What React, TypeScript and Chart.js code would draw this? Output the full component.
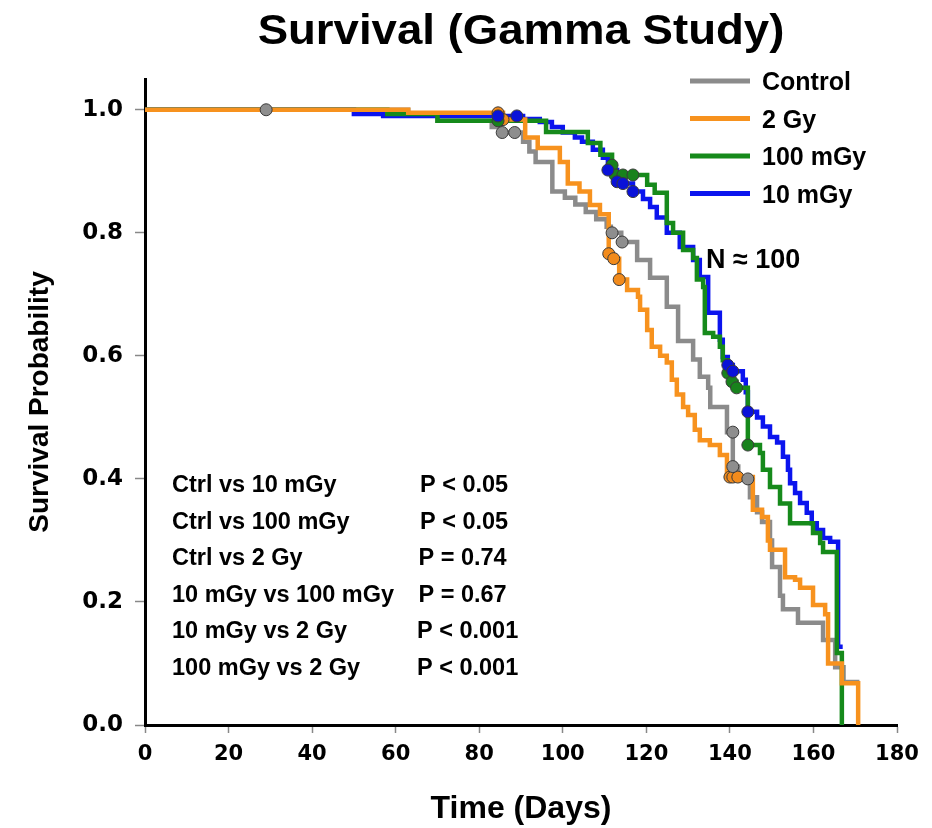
import React, { useEffect, useRef } from 'react';
import { Chart, registerables } from 'chart.js';

Chart.register(...registerables);

// ---------------- data ----------------
const seriesNames = ['Control', '2 Gy', '100 mGy', '10 mGy'];
const lineColors = ['#8b8b8b', '#f7921e', '#168a1b', '#0b14ee'];
const markerColors = ['#8e8e8e', '#f28b1c', '#18821c', '#0a12d8'];

// Kaplan–Meier steps (day of drop, survival after drop)
const controlDays = [0, 63, 70, 83, 85, 90.5, 92, 93.5, 97.5, 100.5, 103, 105.5, 108, 110.5, 111.5, 114, 117.8, 120.9, 124.9, 127.6, 131.2, 132.8, 134.8, 135.3, 139.3, 140.7, 142, 144.8, 146.5, 147.7, 149.6, 150.1, 152.0, 152.7, 156.3, 162.3, 165.2, 167.2, 171];
const controlSurv = [1.0, 0.993, 0.982, 0.972, 0.963, 0.948, 0.932, 0.915, 0.867, 0.857, 0.846, 0.834, 0.822, 0.81, 0.80, 0.785, 0.756, 0.727, 0.68, 0.624, 0.594, 0.566, 0.548, 0.517, 0.476, 0.42, 0.40, 0.37, 0.346, 0.33, 0.30, 0.257, 0.21, 0.188, 0.166, 0.138, 0.094, 0.07, 0.07];

const gy2Days = [0, 63, 85.7, 91, 94, 99.3, 101.2, 104, 106.5, 108.9, 111, 112, 113.5, 115.4, 118, 118.5, 120.2, 121.3, 123.3, 124.9, 126.1, 127.3, 128.8, 130, 131.6, 132.8, 135.2, 137.6, 139.3, 145.5, 147.7, 149.1, 149.6, 153.2, 155.6, 156.8, 159.9, 162.8, 163.5, 166.8, 170.7];
const gy2Surv = [1.0, 0.995, 0.984, 0.955, 0.938, 0.915, 0.88, 0.867, 0.845, 0.83, 0.766, 0.758, 0.724, 0.707, 0.696, 0.675, 0.642, 0.615, 0.60, 0.589, 0.561, 0.537, 0.517, 0.504, 0.48, 0.463, 0.455, 0.439, 0.403, 0.35, 0.338, 0.30, 0.285, 0.24, 0.236, 0.223, 0.195, 0.18, 0.10, 0.068, 0];

const mgy100Days = [0, 58, 70, 96, 106, 109, 111.8, 112.5, 120.2, 122, 124.9, 126.4, 128.8, 131.2, 132.1, 133.6, 134, 136, 137.6, 138.3, 139.5, 140.5, 141.6, 144.3, 147.2, 147.9, 149.6, 152, 154.4, 159.9, 161.6, 162.3, 165.6, 166.8];
const mgy100Surv = [1.0, 0.993, 0.982, 0.964, 0.946, 0.927, 0.91, 0.894, 0.878, 0.865, 0.816, 0.80, 0.772, 0.759, 0.724, 0.712, 0.637, 0.631, 0.615, 0.593, 0.572, 0.558, 0.548, 0.455, 0.442, 0.415, 0.387, 0.36, 0.328, 0.312, 0.296, 0.281, 0.117, 0];

const mgy10Days = [0, 50, 57, 90.5, 94.5, 97.4, 100, 102.9, 104.6, 107.2, 109.6, 110.8, 113, 114.4, 116.8, 119.2, 120.9, 122.5, 124.9, 128, 131.2, 132.8, 134.8, 137.6, 138.3, 139.5, 140.7, 143.1, 143.8, 144.3, 146.5, 147.9, 149.6, 151.3, 152.7, 153.9, 154.4, 155.6, 156.8, 158.4, 159.6, 160.8, 162.3, 164, 165.9, 167];
const mgy10Surv = [1.0, 0.993, 0.99, 0.985, 0.98, 0.972, 0.963, 0.955, 0.948, 0.935, 0.922, 0.902, 0.883, 0.88, 0.867, 0.855, 0.842, 0.825, 0.80, 0.777, 0.756, 0.728, 0.67, 0.626, 0.598, 0.585, 0.575, 0.561, 0.541, 0.509, 0.50, 0.485, 0.468, 0.459, 0.436, 0.415, 0.393, 0.377, 0.361, 0.345, 0.328, 0.317, 0.304, 0.298, 0.127, 0.127];

// censored observations
const controlCensorDays = [29, 85.5, 88.5, 111.8, 114.2, 140.7, 140.7, 144.3];
const controlCensorSurv = [1.0, 0.963, 0.963, 0.80, 0.785, 0.476, 0.42, 0.40];
const gy2CensorDays = [84.5, 85.7, 111, 112.2, 113.5, 140, 140.7, 141.9];
const gy2CensorSurv = [0.995, 0.984, 0.766, 0.758, 0.724, 0.403, 0.403, 0.403];
const mgy100CensorDays = [84.5, 111.8, 112.5, 114.4, 116.8, 139.5, 140.5, 141.6, 144.3];
const mgy100CensorSurv = [0.982, 0.91, 0.894, 0.894, 0.894, 0.572, 0.558, 0.548, 0.455];
const mgy10CensorDays = [84.5, 89, 110.8, 113, 114.4, 116.8, 139.5, 140.7, 144.3];
const mgy10CensorSurv = [0.99, 0.99, 0.902, 0.883, 0.88, 0.867, 0.585, 0.575, 0.509];

const xTicks = [0, 20, 40, 60, 80, 100, 120, 140, 160, 180];
const yTicks = [0, 0.2, 0.4, 0.6, 0.8, 1.0];

const titleText = 'Survival (Gamma Study)';
const xTitleText = 'Time (Days)';
const yTitleText = 'Survival Probability';
const nText = 'N ≈ 100';
const comparisons = ['Ctrl vs 10 mGy', 'Ctrl vs 100 mGy', 'Ctrl vs 2 Gy', '10 mGy vs 100 mGy', '10 mGy vs 2 Gy', '100 mGy vs 2 Gy'];
const pValues = ['P < 0.05', 'P < 0.05', 'P = 0.74', 'P = 0.67', 'P < 0.001', 'P < 0.001'];

// ---------------- rendering ----------------
const FONT = '"Liberation Sans", Arial, Helvetica, sans-serif';
const TICK_FONT = '"DejaVu Sans", Verdana, sans-serif';

const toPoints = (xs: number[], ys: number[]) => xs.map((x, i) => ({ x, y: ys[i] }));

const textPlugin = {
  id: 'survivalTexts',
  afterDraw(chart: any) {
    const { ctx, chartArea: ca } = chart;
    ctx.save();
    ctx.fillStyle = '#000';
    // title
    ctx.font = `bold 42px ${FONT}`;
    ctx.textAlign = 'center';
    ctx.textBaseline = 'alphabetic';
    ctx.save();
    ctx.translate((ca.left + ca.right) / 2, 44);
    ctx.scale(1.085, 1);
    ctx.fillText(titleText, 0, 0);
    ctx.restore();

    // legend
    ctx.textAlign = 'left';
    ctx.font = `bold 25px ${FONT}`;
    const legendX = ca.right - 207;
    seriesNames.forEach((name, i) => {
      const y = ca.top + 2 + i * 37.5;
      ctx.strokeStyle = lineColors[i];
      ctx.lineWidth = 5;
      ctx.lineCap = 'butt';
      ctx.beginPath();
      ctx.moveTo(legendX, y);
      ctx.lineTo(legendX + 60, y);
      ctx.stroke();
      ctx.fillStyle = '#000';
      ctx.fillText(name, legendX + 72, y + 9);
    });

    // N label
    ctx.font = `bold 27px ${FONT}`;
    ctx.fillText(nText, ca.left + 561, ca.top + 189);

    // comparison table
    ctx.font = `bold 23.5px ${FONT}`;
    const pOffsets = [275, 275, 273.5, 273.5, 272, 272];
    comparisons.forEach((c, i) => {
      const y = ca.top + 413 + i * 36.6;
      ctx.fillText(c, ca.left + 27, y);
      ctx.fillText(pValues[i], ca.left + pOffsets[i], y);
    });
    ctx.restore();
  },
};

export default function App() {
  const ref = useRef<HTMLCanvasElement>(null);

  useEffect(() => {
    const canvas = ref.current;
    if (!canvas) return;
    const lineData = [
      toPoints(controlDays, controlSurv),
      toPoints(gy2Days, gy2Surv),
      toPoints(mgy100Days, mgy100Surv),
      toPoints(mgy10Days, mgy10Surv),
    ];
    const censorData = [
      toPoints(controlCensorDays, controlCensorSurv),
      toPoints(gy2CensorDays, gy2CensorSurv),
      toPoints(mgy100CensorDays, mgy100CensorSurv),
      toPoints(mgy10CensorDays, mgy10CensorSurv),
    ];
    const lineOrder = [4, 1, 2, 3];
    const markerOrder = [-4, -1, -2, -3];

    const datasets: any[] = [];
    seriesNames.forEach((name, i) => {
      datasets.push({
        type: 'line',
        label: name,
        data: lineData[i],
        borderColor: lineColors[i],
        backgroundColor: lineColors[i],
        borderWidth: 4.5,
        stepped: 'before',
        pointRadius: 0,
        fill: false,
        order: lineOrder[i],
      });
    });
    seriesNames.forEach((name, i) => {
      datasets.push({
        type: 'scatter',
        label: name + ' (censored)',
        data: censorData[i],
        showLine: false,
        pointRadius: 6,
        pointStyle: 'circle',
        pointBackgroundColor: markerColors[i],
        pointBorderColor: '#3a3a3a',
        pointBorderWidth: 1,
        order: markerOrder[i],
      });
    });

    const chart = new Chart(canvas, {
      type: 'line',
      data: { datasets },
      options: {
        animation: false,
        responsive: false,
        devicePixelRatio: 1,
        layout: { padding: { top: 79, right: 35, left: 0, bottom: 0 } },
        plugins: {
          legend: { display: false },
          tooltip: { enabled: false },
          title: { display: false },
        },
        scales: {
          x: {
            type: 'linear',
            min: 0,
            max: 180,
            afterBuildTicks: (s: any) => { s.ticks = xTicks.map((v) => ({ value: v })); },
            afterFit: (s: any) => { s.height = 103; },
            ticks: {
              color: '#000',
              font: { family: TICK_FONT, size: 21, weight: 'bold' },
              padding: 9,
              maxRotation: 0,
              autoSkip: false,
            },
            grid: { drawOnChartArea: false, drawTicks: true, tickLength: 8, tickColor: '#888', tickWidth: 1.5 },
            border: { display: true, color: '#000', width: 3 },
            title: {
              display: true,
              text: xTitleText,
              color: '#000',
              font: { family: FONT, size: 32, weight: 'bold' },
              padding: { top: 0, bottom: 0 },
            },
          },
          y: {
            type: 'linear',
            min: 0,
            max: 1.05,
            afterBuildTicks: (s: any) => { s.ticks = yTicks.map((v) => ({ value: v })); },
            afterFit: (s: any) => { s.width = 145; },
            ticks: {
              color: '#000',
              font: { family: TICK_FONT, size: 23, weight: 'bold' },
              padding: 12,
              callback: (v: any) => Number(v).toFixed(1),
            },
            grid: { drawOnChartArea: false, drawTicks: true, tickLength: 10, tickColor: '#888', tickWidth: 1.5 },
            border: { display: true, color: '#000', width: 3 },
            title: {
              display: true,
              text: yTitleText,
              color: '#000',
              font: { family: FONT, size: 28, weight: 'bold' },
              padding: { top: 23, bottom: 0 },
            },
          },
        },
      },
      plugins: [textPlugin],
    } as any);

    return () => chart.destroy();
  }, []);

  return (
    <div style={{ position: 'absolute', left: 0, top: 0, width: 932, height: 828, background: '#fff' }}>
      <canvas ref={ref} width={932} height={828} style={{ display: 'block', width: 932, height: 828 }} />
    </div>
  );
}
